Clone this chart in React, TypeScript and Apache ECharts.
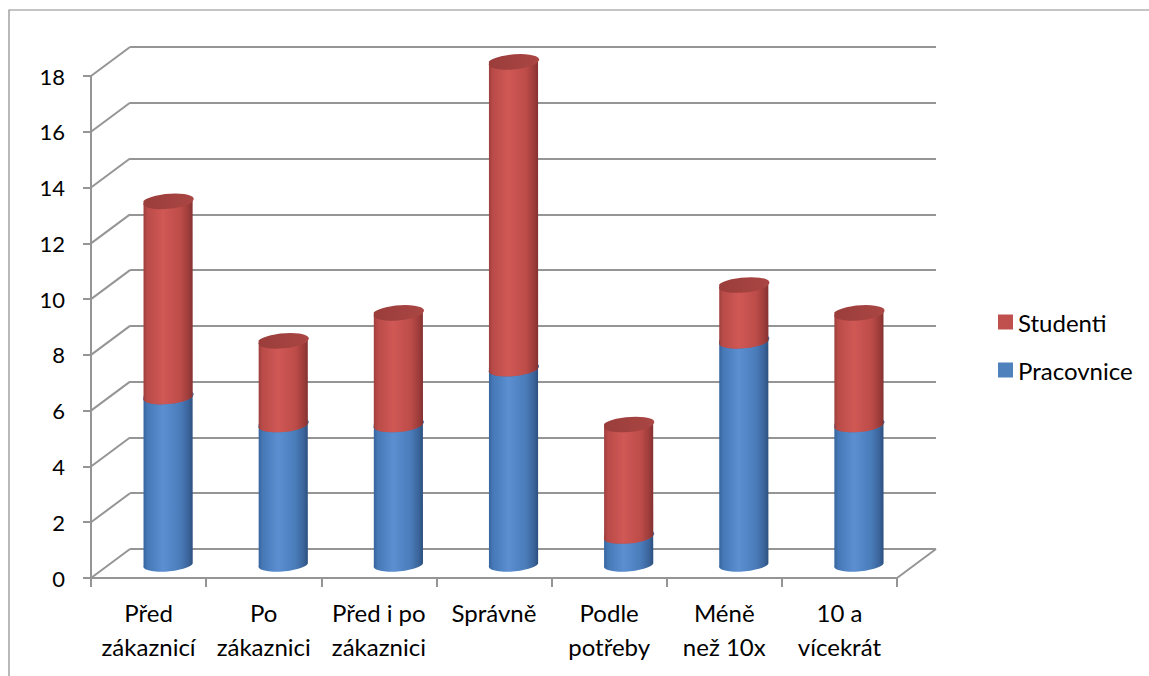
import React, { useEffect, useRef } from "react";
import * as echarts from "echarts";

// Survey answers per category, stacked: Pracovnice (bottom) + Studenti (top)
const categories = [
  "Před\nzákaznicí",
  "Po\nzákaznici",
  "Před i po\nzákaznici",
  "Správně",
  "Podle\npotřeby",
  "Méně\nnež 10x",
  "10 a\nvícekrát",
];
const pracovnice = [6, 5, 5, 7, 1, 8, 5];
const studenti = [7, 3, 4, 11, 4, 2, 4];
const seriesNames = ["Pracovnice", "Studenti"];
const legendOrder = ["Studenti", "Pracovnice"];

const Y_MIN = 0;
const Y_MAX = 18;
const Y_STEP = 2;

// 3D box depth (front plane -> back wall), in pixels
const DX = 39;
const DY = -29;
const BAR_RATIO = 0.428;
const ELLIPSE_RY = 6.8;
const TILT_DEG = -5;

const FONT = "Lato, 'Noto Sans', sans-serif";
const LINE = "#959595";

const yTicks: number[] = [];
for (let v = Y_MIN; v <= Y_MAX; v += Y_STEP) yTicks.push(v);

const grad = (stops: [number, string][]) =>
  new echarts.graphic.LinearGradient(
    0,
    0,
    1,
    0,
    stops.map(([offset, color]) => ({ offset, color }))
  );

const palette = {
  Pracovnice: {
    legend: "#4F81BD",
    body: [
      [0, "#34629b"],
      [0.08, "#4678b6"],
      [0.4, "#5b8fd1"],
      [0.75, "#4a7cba"],
      [0.92, "#3a6399"],
      [1, "#2c4f7e"],
    ] as [number, string][],
    top: [
      [0, "#3b6aa3"],
      [1, "#4b7cb8"],
    ] as [number, string][],
  },
  Studenti: {
    legend: "#C0504D",
    body: [
      [0, "#9c3e3c"],
      [0.08, "#b94b48"],
      [0.4, "#d05855"],
      [0.75, "#bd4c49"],
      [0.92, "#9c3c3a"],
      [1, "#833130"],
    ] as [number, string][],
    top: [
      [0, "#9a3d3b"],
      [1, "#aa4643"],
    ] as [number, string][],
  },
};

function cylinderRenderer(name: "Pracovnice" | "Studenti") {
  const colors = palette[name];
  return (params: any, api: any) => {
    const i = api.value(0);
    const lo = api.value(1);
    const hi = api.value(2);
    const base = api.coord([i, lo]);
    const tip = api.coord([i, hi]);
    const band = api.size([1, 0])[0];
    const rx = (band * BAR_RATIO) / 2;
    const ry = ELLIPSE_RY;
    const t = (TILT_DEG * Math.PI) / 180;
    const ex = rx * Math.cos(t);
    const ey = -rx * Math.sin(t);
    const cx = base[0] + DX / 2;
    const yB = base[1] + DY / 2;
    const yT = tip[1] + DY / 2;
    const body =
      `M ${cx - ex} ${yT + ey} L ${cx - ex} ${yB + ey} ` +
      `A ${rx} ${ry} ${TILT_DEG} 0 0 ${cx + ex} ${yB - ey} ` +
      `L ${cx + ex} ${yT - ey} Z`;
    const top =
      `M ${cx - ex} ${yT + ey} ` +
      `A ${rx} ${ry} ${TILT_DEG} 0 0 ${cx + ex} ${yT - ey} ` +
      `A ${rx} ${ry} ${TILT_DEG} 0 0 ${cx - ex} ${yT + ey} Z`;
    return {
      type: "group",
      children: [
        {
          type: "path",
          shape: { pathData: body },
          style: { fill: grad(colors.body), stroke: "none" },
        },
        {
          type: "path",
          shape: { pathData: top },
          style: { fill: grad(colors.top), stroke: "none" },
        },
      ],
    };
  };
}

export default function App() {
  const ref = useRef<HTMLDivElement>(null);

  useEffect(() => {
    if (!ref.current) return;
    const chart = echarts.init(ref.current, undefined, { renderer: "svg" });

    const pracData = pracovnice.map((v, i) => [i, 0, v]);
    const studData = studenti.map((v, i) => [i, pracovnice[i], pracovnice[i] + v]);

    chart.setOption({
      animation: false,
      backgroundColor: "#ffffff",
      textStyle: { fontFamily: FONT },
      graphic: [
        {
          type: "rect",
          shape: { x: 9, y: 10, width: 1300, height: 800 },
          style: { fill: "none", stroke: "#8a8a8a", lineWidth: 1.2 },
          z: 0,
        },
      ],
      legend: {
        data: legendOrder,
        orient: "vertical",
        left: 993,
        top: 305,
        icon: "rect",
        itemWidth: 15,
        itemHeight: 15,
        itemGap: 24,
        selectedMode: false,
        textStyle: {
          fontFamily: FONT,
          fontSize: 24,
          color: "#000",
          lineHeight: 24,
        },
      },
      grid: [
        { left: 91, right: 252, top: 76, bottom: 98 },
        { left: 91 + DX, right: 252 - DX, top: 76 + DY, bottom: 98 - DY },
      ],
      xAxis: [
        {
          type: "category",
          gridIndex: 0,
          data: categories,
          boundaryGap: true,
          axisLine: { show: true, lineStyle: { color: LINE, width: 2 } },
          axisTick: {
            show: true,
            length: 9,
            alignWithLabel: false,
            lineStyle: { color: LINE, width: 2 },
          },
          axisLabel: {
            interval: 0,
            margin: 17,
            fontFamily: FONT,
            fontSize: 24,
            lineHeight: 34,
            color: "#000",
          },
          splitLine: { show: false },
        },
        {
          type: "category",
          gridIndex: 1,
          data: categories,
          show: false,
        },
      ],
      yAxis: [
        {
          type: "value",
          gridIndex: 0,
          min: Y_MIN,
          max: Y_MAX,
          interval: Y_STEP,
          axisLine: { show: true, lineStyle: { color: LINE, width: 2 } },
          axisTick: { show: true, length: 8, lineStyle: { color: LINE, width: 2 } },
          axisLabel: {
            margin: 26,
            fontFamily: FONT,
            fontSize: 22,
            color: "#000",
          },
          splitLine: { show: false },
        },
        {
          type: "value",
          gridIndex: 1,
          min: Y_MIN,
          max: Y_MAX,
          interval: Y_STEP,
          axisLine: { show: false },
          axisTick: { show: false },
          axisLabel: { show: false },
          splitLine: { show: true, lineStyle: { color: LINE, width: 2 } },
        },
      ],
      series: [
        {
          // side-wall diagonals from the front value axis to the back wall
          type: "custom",
          name: "walls",
          xAxisIndex: 0,
          yAxisIndex: 0,
          silent: true,
          data: yTicks.map((v) => [0, v]),
          renderItem: (params: any, api: any) => {
            const cs = params.coordSys;
            const v = api.value(1);
            const y = api.coord([0, v])[1];
            const children: any[] = [
              {
                type: "line",
                shape: { x1: cs.x, y1: y, x2: cs.x + DX, y2: y + DY },
                style: { stroke: LINE, lineWidth: 2 },
              },
            ];
            if (v === Y_MIN) {
              children.push({
                type: "line",
                shape: {
                  x1: cs.x + cs.width,
                  y1: y,
                  x2: cs.x + cs.width + DX,
                  y2: y + DY,
                },
                style: { stroke: LINE, lineWidth: 2 },
              });
            }
            return { type: "group", children };
          },
          z: 1,
        },
        {
          type: "custom",
          name: seriesNames[0],
          xAxisIndex: 0,
          yAxisIndex: 0,
          itemStyle: { color: palette.Pracovnice.legend },
          data: pracData,
          encode: { x: 0, y: [1, 2] },
          renderItem: cylinderRenderer("Pracovnice"),
          z: 2,
        },
        {
          type: "custom",
          name: seriesNames[1],
          xAxisIndex: 0,
          yAxisIndex: 0,
          itemStyle: { color: palette.Studenti.legend },
          data: studData,
          encode: { x: 0, y: [1, 2] },
          renderItem: cylinderRenderer("Studenti"),
          z: 3,
        },
      ],
    });

    return () => chart.dispose();
  }, []);

  return (
    <div
      ref={ref}
      style={{ position: "fixed", left: 0, top: 0, width: 1149, height: 676 }}
    />
  );
}
